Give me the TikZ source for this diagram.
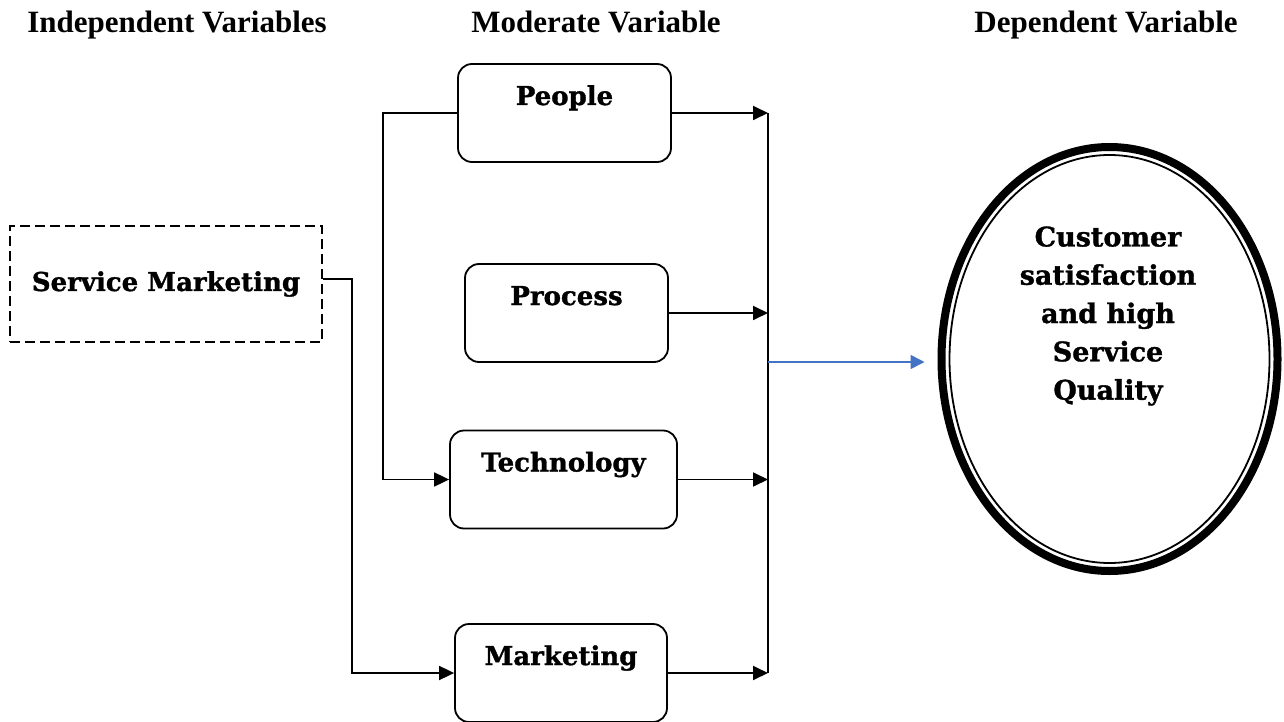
\documentclass[tikz,border=0pt]{standalone}
\usepackage{fontspec}
\setmainfont{Liberation Serif}
\newfontfamily\boxfont[BoldFeatures={FakeBold=1.2}]{DejaVu Serif}
\usetikzlibrary{arrows.meta,shapes.geometric}
\definecolor{linkblue}{RGB}{68,114,196}
\begin{document}
\begin{tikzpicture}[x=1pt,y=-1pt,
  header/.style={font=\bfseries\fontsize{31}{36}\selectfont, anchor=base, inner sep=0pt},
  varbox/.style={draw, line width=1.8pt, rounded corners=14pt, minimum height=98pt,
    inner sep=0pt, font=\boxfont\bfseries\fontsize{26}{30}\selectfont,
    text height=20pt, text depth=36pt},
  srcbox/.style={draw, line width=2.4pt, dash pattern=on 10pt off 5pt,
    minimum width=312pt, minimum height=116pt, inner sep=0pt,
    font=\boxfont\bfseries\fontsize{26}{30}\selectfont},
  arr/.style={-{Triangle[length=15pt,width=14pt]}, line width=1.8pt},
  bluearr/.style={-{Triangle[length=14pt,width=14pt]}, line width=1.5pt, draw=linkblue, color=linkblue}
]
\useasboundingbox (0,0) rectangle (1284,722);

% column headings
\node[header] (hind) at (177,33) {Independent Variables};
\node[header] (hmod) at (596,33) {Moderate Variable};
\node[header] (hdep) at (1106,33) {Dependent Variable};

% independent variable
\node[srcbox] (sm) at (166,284) {Service Marketing};

% moderating variables
\node[varbox, minimum width=213pt] (pp) at (564.5,113) {People};
\node[varbox, minimum width=203pt] (pc) at (566.5,313) {Process};
\node[varbox, minimum width=227pt] (tc) at (563.5,479.5) {Technology};
\node[varbox, minimum width=212pt] (mk) at (561,673) {Marketing};

% dependent variable
\node[ellipse, draw, line width=8pt, minimum width=336pt, minimum height=424pt, inner sep=0pt] (dv) at (1109.5,359) {};
\draw[line width=1.8pt] (dv.center) ellipse [x radius=160, y radius=204];
\node[align=center, font=\boxfont\bfseries\fontsize{27}{38.3}\selectfont] (dvtext) at (1108,316)
  {Customer\\satisfaction\\and high\\Service\\Quality};

% collecting bus
\coordinate (bustop) at (768,113);
\coordinate (busbot) at (768,673);
\draw[line width=1.5pt] (bustop) -- (busbot);

% feeds into the moderating variables
\draw[arr] ([yshift=5pt]sm.east) -- ++(29,0) |- (mk.west);
\draw[arr] (pp.west) -- ++(-74,0) |- (tc.west);

% moderating variables into the bus
\draw[arr] (pp.east) -- (pp.east -| bustop);
\draw[arr] (pc.east) -- (pc.east -| bustop);
\draw[arr] (tc.east) -- (tc.east -| bustop);
\draw[arr] (mk.east) -- (mk.east -| bustop);

% bus to the outcome
\coordinate (dvin) at ([yshift=-3pt]dv.west);
\draw[bluearr, shorten >=13pt] (dvin -| bustop) -- (dvin);
\end{tikzpicture}
\end{document}
